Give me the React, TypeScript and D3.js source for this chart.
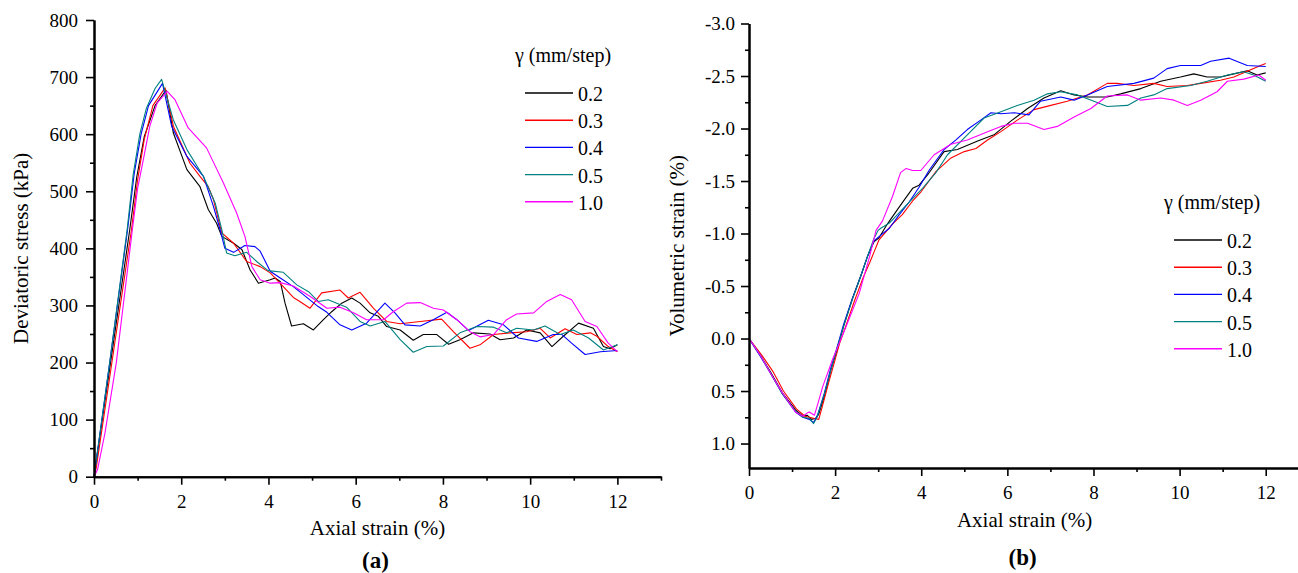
import React, { useRef, useEffect } from "react";
import * as d3 from "d3";

type Pt = [number, number];

// legend labels + colours (gamma, mm/step)
const gammaLabels = ["0.2", "0.3", "0.4", "0.5", "1.0"];
const lineColors = ["#000000", "#ff0000", "#0000ff", "#008080", "#ff00ff"];

// tick values
const strainTicks = [0, 2, 4, 6, 8, 10, 12];
const strainMinor = [1, 3, 5, 7, 9, 11, 13];
const stressTicks = [0, 100, 200, 300, 400, 500, 600, 700, 800];
const stressMinor = [50, 150, 250, 350, 450, 550, 650, 750];
const volTicks = [-3, -2.5, -2, -1.5, -1, -0.5, 0, 0.5, 1];
const volMinor = [-2.75, -2.25, -1.75, -1.25, -0.75, -0.25, 0.25, 0.75];

// (a) deviatoric stress (kPa) vs axial strain (%)
const stress02: Pt[] = [[0,0],[0.38,200],[0.82,433],[0.98,525],[1.15,595],[1.4,650],[1.65,677],[1.82,602],[2.13,538],[2.43,508],[2.62,468],[2.81,444],[2.93,421],[3.2,409],[3.39,398],[3.58,362],[3.77,339],[4.04,345],[4.15,348],[4.27,342],[4.38,304],[4.53,264],[4.8,268],[5.03,257],[5.26,275],[5.45,289],[5.68,304],[5.91,313],[6.1,304],[6.33,287],[6.52,281],[6.71,263],[7.02,257],[7.32,239],[7.55,249],[7.86,249],[8.13,232],[8.39,240],[8.7,252],[9.08,250],[9.31,240],[9.62,243],[9.92,257],[10.23,252],[10.5,228],[10.76,246],[11.11,269],[11.45,260],[11.68,228],[11.83,224],[12,231]];
const stress03: Pt[] = [[0,0],[0.05,15],[0.41,200],[0.86,433],[1.0,520],[1.15,590],[1.35,650],[1.63,681],[1.82,614],[2.2,549],[2.43,526],[2.62,508],[2.74,485],[2.93,427],[3.2,409],[3.5,377],[3.81,368],[4.04,357],[4.34,333],[4.57,314],[4.72,307],[4.95,295],[5.22,322],[5.64,327],[5.83,313],[6.1,323],[6.41,295],[6.71,272],[7.02,268],[7.48,272],[7.97,276],[8.24,254],[8.62,225],[8.85,231],[9.16,249],[9.54,252],[9.92,254],[10.23,260],[10.46,243],[10.8,259],[11.07,249],[11.38,252],[11.53,246],[11.79,228],[12,219]];
const stress04: Pt[] = [[0,0],[0.36,200],[0.77,433],[0.92,530],[1.08,600],[1.25,650],[1.57,689],[1.78,614],[2.13,561],[2.51,526],[2.74,473],[2.89,433],[3.0,400],[3.2,393],[3.46,405],[3.69,403],[3.81,395],[4.04,360],[4.27,348],[4.57,333],[4.8,319],[5.14,298],[5.34,288],[5.64,266],[5.91,257],[6.25,269],[6.67,304],[6.9,287],[7.13,266],[7.48,264],[7.78,275],[8.09,288],[8.32,275],[8.59,256],[9.04,274],[9.39,266],[9.73,243],[10.15,237],[10.53,249],[10.73,249],[10.95,234],[11.26,214],[11.61,219],[12,221]];
const stress05: Pt[] = [[0,0],[0.36,200],[0.76,433],[0.9,530],[1.05,600],[1.2,645],[1.4,680],[1.55,696],[1.82,625],[2.13,573],[2.51,526],[2.78,479],[2.93,433],[3.04,392],[3.23,387],[3.5,393],[3.73,377],[3.99,361],[4.34,358],[4.65,336],[4.92,324],[5.14,307],[5.37,310],[5.79,297],[6.1,272],[6.33,264],[6.67,272],[7.02,240],[7.32,218],[7.63,228],[8.01,229],[8.39,252],[8.78,263],[9.16,262],[9.46,252],[9.69,260],[10.08,257],[10.34,264],[10.69,249],[10.99,257],[11.34,243],[11.68,222],[12,231]];
const stress10: Pt[] = [[0,0],[0.08,12],[0.25,76],[0.51,199],[0.88,433],[1.0,505],[1.13,555],[1.28,614],[1.45,655],[1.68,675],[1.86,660],[2.16,611],[2.58,576],[2.97,514],[3.27,462],[3.46,421],[3.62,368],[3.81,345],[4.04,339],[4.27,340],[4.57,334],[4.95,316],[5.34,295],[5.64,297],[5.95,287],[6.25,275],[6.64,275],[6.86,289],[7.17,304],[7.48,305],[7.78,295],[8.01,292],[8.32,275],[8.62,254],[8.85,245],[9.16,249],[9.46,275],[9.69,285],[10.08,287],[10.38,307],[10.69,319],[10.95,310],[11.26,272],[11.53,263],[11.79,234],[12,219]];

// (b) volumetric strain (%) vs axial strain (%)
const vol02: Pt[] = [[0,0],[0.28,0.17],[0.5,0.32],[0.78,0.52],[1.08,0.68],[1.25,0.74],[1.35,0.73],[1.45,0.77],[1.55,0.76],[1.62,0.72],[1.75,0.55],[1.9,0.3],[2.02,0.14],[2.2,-0.12],[2.4,-0.38],[2.6,-0.6],[2.75,-0.78],[2.9,-0.92],[3.02,-0.96],[3.18,-1.07],[3.45,-1.23],[3.64,-1.34],[3.8,-1.43],[3.95,-1.46],[4.15,-1.56],[4.53,-1.78],[4.84,-1.8],[5.31,-1.88],[5.69,-1.94],[6.08,-2.07],[6.47,-2.19],[6.85,-2.29],[7.24,-2.36],[7.55,-2.32],[7.86,-2.3],[8.32,-2.3],[8.63,-2.33],[9.1,-2.38],[9.56,-2.45],[10.02,-2.49],[10.33,-2.52],[10.64,-2.49],[10.95,-2.49],[11.26,-2.52],[11.57,-2.55],[11.8,-2.51],[12,-2.53]];
const vol03: Pt[] = [[0,0],[0.3,0.16],[0.55,0.31],[0.8,0.5],[1.1,0.67],[1.3,0.74],[1.5,0.76],[1.62,0.77],[1.7,0.65],[1.85,0.42],[2.0,0.2],[2.1,0.05],[2.25,-0.12],[2.45,-0.36],[2.65,-0.58],[2.8,-0.72],[2.91,-0.83],[3.02,-0.94],[3.33,-1.09],[3.56,-1.18],[3.8,-1.31],[4.0,-1.4],[4.34,-1.59],[4.69,-1.72],[5.0,-1.78],[5.27,-1.81],[5.54,-1.89],[5.85,-1.97],[6.23,-2.08],[6.62,-2.18],[7.01,-2.22],[7.39,-2.26],[7.86,-2.32],[8.32,-2.43],[8.55,-2.43],[8.94,-2.41],[9.4,-2.43],[9.71,-2.4],[10.18,-2.41],[10.49,-2.43],[10.95,-2.46],[11.26,-2.49],[11.65,-2.56],[11.88,-2.6],[12,-2.62]];
const vol04: Pt[] = [[0,0],[0.28,0.18],[0.5,0.33],[0.78,0.53],[1.08,0.7],[1.25,0.75],[1.4,0.77],[1.5,0.8],[1.6,0.72],[1.75,0.52],[1.9,0.28],[2.02,0.12],[2.2,-0.14],[2.4,-0.38],[2.6,-0.6],[2.75,-0.78],[2.9,-0.93],[3.02,-0.97],[3.26,-1.05],[3.49,-1.18],[3.72,-1.3],[3.95,-1.44],[4.18,-1.6],[4.53,-1.8],[4.8,-1.89],[5.07,-1.99],[5.38,-2.08],[5.62,-2.15],[5.85,-2.14],[6.16,-2.15],[6.5,-2.13],[6.77,-2.26],[7.24,-2.3],[7.55,-2.27],[7.86,-2.32],[8.32,-2.4],[8.94,-2.43],[9.4,-2.48],[9.71,-2.57],[10.02,-2.6],[10.49,-2.6],[10.72,-2.64],[11.15,-2.67],[11.57,-2.6],[12,-2.59]];
const vol05: Pt[] = [[0,0],[0.28,0.17],[0.5,0.33],[0.78,0.53],[1.08,0.69],[1.25,0.75],[1.4,0.76],[1.5,0.81],[1.58,0.75],[1.75,0.53],[1.9,0.3],[2.02,0.13],[2.2,-0.12],[2.4,-0.37],[2.6,-0.6],[2.75,-0.78],[2.9,-0.95],[3.0,-1.03],[3.06,-1.05],[3.26,-1.1],[3.49,-1.2],[3.72,-1.3],[4.03,-1.43],[4.34,-1.58],[4.61,-1.75],[5.07,-1.94],[5.46,-2.1],[5.85,-2.16],[6.23,-2.22],[6.62,-2.27],[6.93,-2.33],[7.24,-2.35],[7.63,-2.32],[8.01,-2.26],[8.32,-2.21],[8.79,-2.22],[9.1,-2.29],[9.4,-2.32],[9.71,-2.38],[10.26,-2.41],[10.64,-2.45],[11.11,-2.51],[11.49,-2.54],[11.72,-2.51],[12,-2.45]];
const vol10: Pt[] = [[0,0],[0.28,0.17],[0.5,0.33],[0.78,0.52],[1.08,0.7],[1.25,0.74],[1.35,0.71],[1.4,0.7],[1.52,0.73],[1.6,0.62],[1.71,0.46],[1.94,0.2],[2.25,-0.11],[2.56,-0.43],[2.8,-0.78],[2.95,-1.03],[3.1,-1.12],[3.33,-1.35],[3.52,-1.58],[3.65,-1.62],[3.8,-1.6],[3.99,-1.6],[4.3,-1.75],[4.69,-1.85],[5.07,-1.89],[5.54,-1.97],[5.85,-2.02],[6.16,-2.05],[6.47,-2.05],[6.85,-1.99],[7.16,-2.02],[7.55,-2.11],[7.94,-2.19],[8.32,-2.31],[8.79,-2.32],[9.1,-2.27],[9.56,-2.29],[9.87,-2.27],[10.18,-2.22],[10.49,-2.27],[10.87,-2.35],[11.11,-2.45],[11.49,-2.47],[11.84,-2.51],[12,-2.46]];

const stressSeries = [stress02, stress03, stress04, stress05, stress10];
const volSeries = [vol02, vol03, vol04, vol05, vol10];

const FONT = "'Liberation Serif', 'Times New Roman', serif";

const Panel = ({ xScale, yScale, series, yTicks, yMinor, yFormat, yPad, yTitle, yTitleX, xTitleY, tag, tagY, legendX, legendY }) => {
  const xRef = useRef(null);
  const yRef = useRef(null);
  const bottom = yScale.range()[0];
  const left = xScale.range()[0];
  // titles sit in the middle of the drawn axis line
  const midX = (xScale.range()[0] + xScale.range()[1]) / 2;
  const midY = (yScale.range()[0] + yScale.range()[1]) / 2;

  useEffect(() => {
    const gx = d3.select(xRef.current);
    gx.selectAll("*").remove();
    gx.append("g").call(d3.axisBottom(xScale).tickValues(strainMinor).tickSize(4).tickFormat(() => "").tickSizeOuter(0));
    gx.append("g").call(d3.axisBottom(xScale).tickValues(strainTicks).tickSize(8).tickPadding(10).tickSizeOuter(0));

    const gy = d3.select(yRef.current);
    gy.selectAll("*").remove();
    gy.append("g").call(d3.axisLeft(yScale).tickValues(yMinor).tickSize(4).tickFormat(() => "").tickSizeOuter(0));
    gy.append("g").call(d3.axisLeft(yScale).tickValues(yTicks).tickSize(8).tickPadding(yPad).tickFormat(yFormat).tickSizeOuter(0));

    [gx, gy].forEach((g) => {
      g.selectAll("g").attr("font-family", FONT).attr("font-size", 19);
      g.selectAll(".domain").attr("stroke", "#000").attr("stroke-width", 2);
      g.selectAll(".tick line").attr("stroke", "#000").attr("stroke-width", 1.6);
      g.selectAll(".tick text").attr("fill", "#000").attr("font-family", FONT);
    });
  }, [xScale, yScale]);

  const line = d3.line<Pt>().x((d) => xScale(d[0])).y((d) => yScale(d[1]));

  return (
    <g>
      {series.map((s, i) => (
        <path key={i} d={line(s)} fill="none" stroke={lineColors[i]} strokeWidth={1.1} strokeLinejoin="round" />
      ))}
      <g ref={xRef} transform={`translate(0,${bottom})`} />
      <g ref={yRef} transform={`translate(${left},0)`} />
      <text x={midX} y={xTitleY} textAnchor="middle" dominantBaseline="central" fontSize={21} fontFamily={FONT}>Axial strain (%)</text>
      <text transform={`translate(${yTitleX},${midY}) rotate(-90)`} textAnchor="middle" dominantBaseline="central" fontSize={21} fontFamily={FONT}>{yTitle}</text>
      <text x={midX - 2} y={tagY} textAnchor="middle" dominantBaseline="central" fontSize={23} fontWeight="bold" fontFamily={FONT}>{tag}</text>
      <g transform={`translate(${legendX},${legendY})`} fontFamily={FONT} fontSize={20}>
        <text x={0} y={0} dominantBaseline="central" fontFamily={FONT}>γ (mm/step)</text>
        {gammaLabels.map((g, i) => (
          <g key={g} transform={`translate(0,${38 + i * 27.2})`}>
            <line x1={10} x2={58} y1={0} y2={0} stroke={lineColors[i]} strokeWidth={1.4} />
            <text x={63} y={1} dominantBaseline="central" fontFamily={FONT}>{g}</text>
          </g>
        ))}
      </g>
    </g>
  );
};

export default function App() {
  const xLeft = d3.scaleLinear().domain([0, 13]).range([94, 661]);
  const yLeft = d3.scaleLinear().domain([0, 800]).range([476.7, 20]);
  const xRight = d3.scaleLinear().domain([0, 12.8]).range([749, 749 + 12.8 * 43.06]);
  const yRight = d3.scaleLinear().domain([1.233, -3]).range([468, 23.5]);

  return (
    <svg width={1298} height={573} style={{ position: "absolute", left: 0, top: 0, background: "#fff" }}>
      <rect width={1298} height={573} fill="#fff" />
      <Panel
        xScale={xLeft}
        yScale={yLeft}
        series={stressSeries}
        yTicks={stressTicks}
        yMinor={stressMinor}
        yFormat={(v) => String(v)}
        yPad={8}
        yTitle="Deviatoric stress (kPa)"
        yTitleX={21}
        xTitleY={528}
        tag="(a)"
        tagY={560}
        legendX={515}
        legendY={55}
      />
      <Panel
        xScale={xRight}
        yScale={yRight}
        series={volSeries}
        yTicks={volTicks}
        yMinor={volMinor}
        yFormat={(v) => v.toFixed(1)}
        yPad={6}
        yTitle="Volumetric strain (%)"
        yTitleX={677}
        xTitleY={520}
        tag="(b)"
        tagY={557}
        legendX={1164}
        legendY={202}
      />
    </svg>
  );
}
